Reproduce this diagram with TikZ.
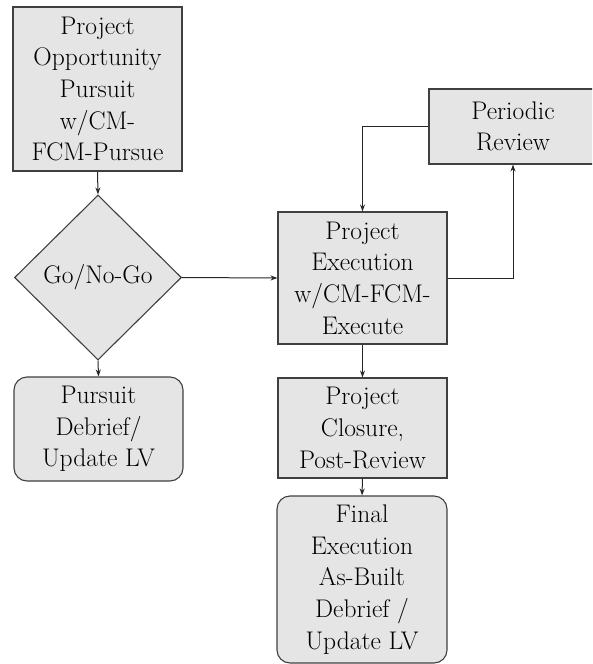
\documentclass[tikz,border=0pt]{standalone}
\usepackage{fontspec}
\usetikzlibrary{shapes.geometric,arrows.meta,calc}
\begin{document}
\begin{tikzpicture}[x=1pt,y=-1pt,
  every node/.style={font=\fontsize{25.5}{31.7}\selectfont},
  blk/.style={draw=black!75,line width=1.1pt,fill=gray!20,align=center,inner sep=0pt,minimum width=169pt},
  rblk/.style={blk,rounded corners=13pt},
  dec/.style={draw=black!75,line width=1.1pt,fill=gray!20,shape=diamond,align=center,inner sep=0pt,minimum width=167pt,minimum height=165pt},
  conn/.style={draw=black!85,line width=1pt,-{Stealth[length=7pt,width=5pt]}}]
\useasboundingbox (0,0) rectangle (592,664);
\clip (0,0) rectangle (592,664);
\node[blk,minimum height=164pt] (pursue) at (97.5,89) {Project\\Opportunity\\Pursuit\\w/CM-\\FCM-Pursue};
\node[dec] (go) at (98,277.5) {Go/No-Go};
\node[rblk,minimum height=104pt,minimum width=169pt] (debrief) at (98.5,429) {Pursuit\\Debrief/\\Update LV};
\node[blk,minimum height=132pt] (exec) at (362.5,278) {Project\\Execution\\w/CM-FCM-\\Execute};
\node[blk,minimum height=75pt,minimum width=168pt] (review) at (513,126.5) {Periodic\\Review};
\node[blk,minimum height=100pt] (closure) at (362.5,428) {Project\\Closure,\\Post-Review};
\node[rblk,minimum height=167pt,minimum width=170pt] (final) at (362,579.5) {Final\\Execution\\As-Built\\Debrief /\\Update LV};
\draw[conn] (pursue.south) -- (go.north);
\draw[conn] (go.east) -- (exec.west);
\draw[conn] (go.south) -- (debrief.north);
\draw[conn] (exec.south) -- (closure.north);
\draw[conn] (closure.south) -- (final.north);
\draw[conn] (review.west) -| (exec.north);
\draw[conn] (exec.east) -| (review.south);
\end{tikzpicture}
\end{document}
